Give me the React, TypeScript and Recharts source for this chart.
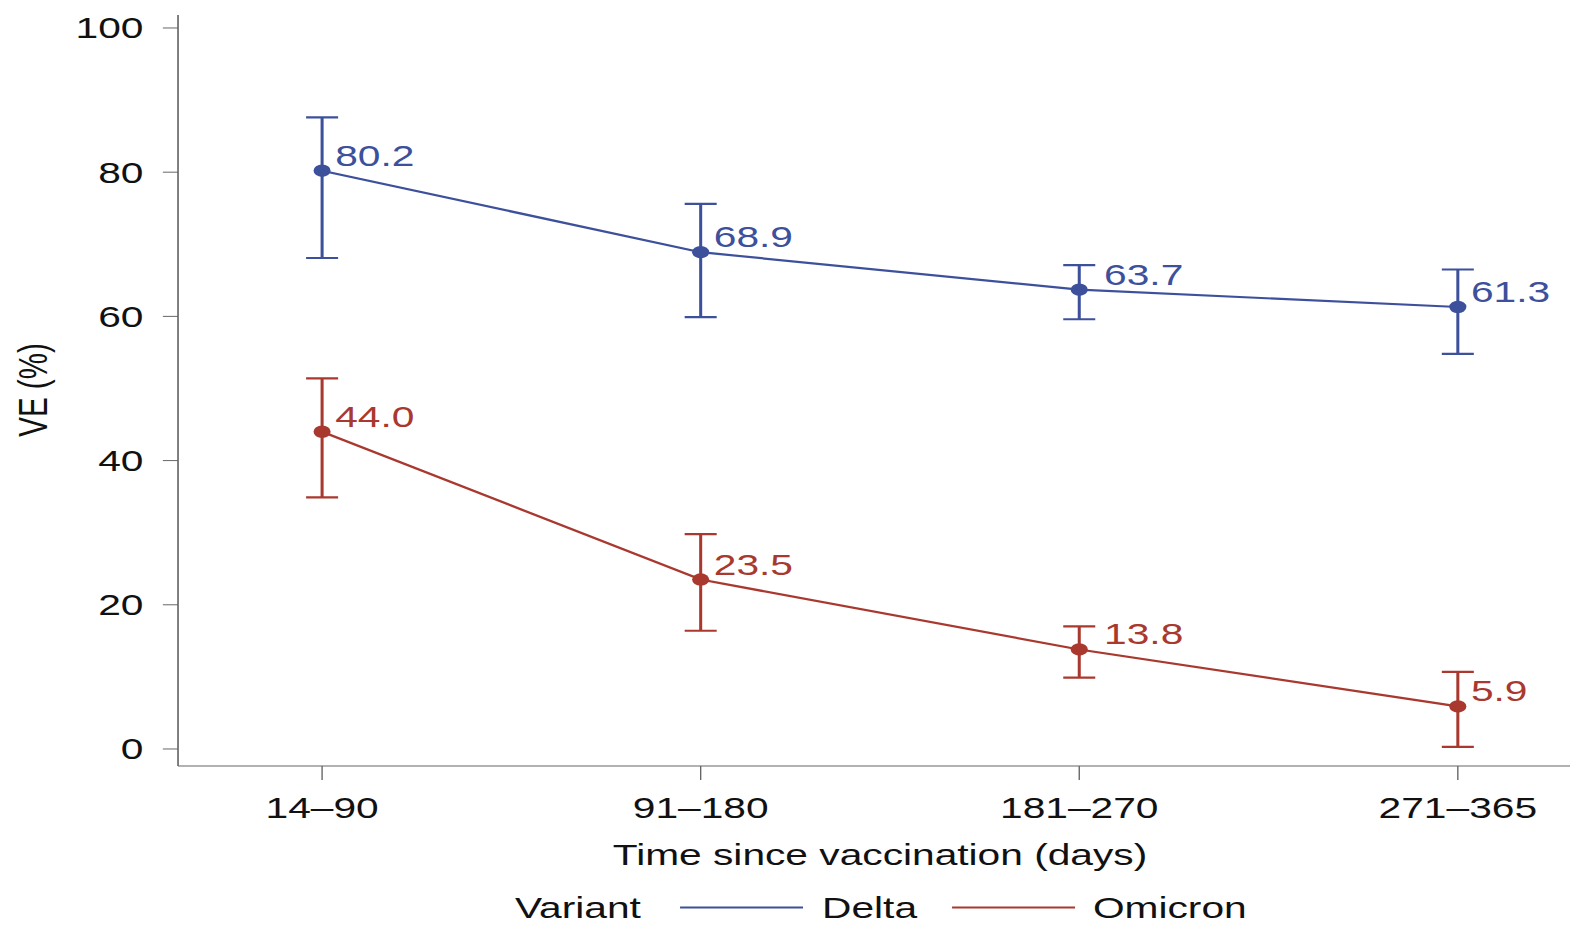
import React from 'react';
import { LineChart, Line, XAxis, YAxis, ErrorBar, LabelList, Customized } from 'recharts';

const categories = ['14–90', '91–180', '181–270', '271–365'];
const deltaVE = [80.2, 68.9, 63.7, 61.3];
const deltaLower = [68.1, 59.9, 59.6, 54.8];
const deltaUpper = [87.6, 75.6, 67.1, 66.5];
const omicronVE = [44.0, 23.5, 13.8, 5.9];
const omicronLower = [34.9, 16.4, 9.9, 0.3];
const omicronUpper = [51.4, 29.8, 17.0, 10.7];
const yTicks = [0, 20, 40, 60, 80, 100];

const data = categories.map((cat, i) => ({
  cat,
  delta: deltaVE[i],
  deltaErr: [deltaVE[i] - deltaLower[i], deltaUpper[i] - deltaVE[i]],
  omicron: omicronVE[i],
  omicronErr: [omicronVE[i] - omicronLower[i], omicronUpper[i] - omicronVE[i]],
}));

const BLUE = '#3d509c';
const RED = '#a9392e';
const AXIS = '#666666';
const FONT = '"Liberation Sans", Arial, Helvetica, sans-serif';
const FS = 29.5;
const SX = 1.38;

// labels sit beside the point; when the upper cap is close above the point, move the label past the cap
const makeLabel = (color: string, values: number[], uppers: number[]) => (props: any) => {
  const { x, y, value, index } = props;
  const gap = uppers[index] - values[index];
  const dx = gap < 4 ? 18 : 9.5;
  return (
    <text x={x + dx} y={y - 5} fill={color} fontSize={FS} fontFamily={FONT}>
      {Number(value).toFixed(1)}
    </text>
  );
};

const Titles = () => (
  <g fontFamily={FONT} fontSize={FS} fill="#111">
    <text x={637.7} y={865} textAnchor="middle">Time since vaccination (days)</text>
    <text x={34} y={390} textAnchor="middle" transform="rotate(-90, 34, 390)">VE (%)</text>
    <text x={373.2} y={918}>Variant</text>
    <line x1={492.8} x2={581.9} y1={907.5} y2={907.5} stroke={BLUE} strokeWidth={2.2} />
    <text x={595.7} y={918}>Delta</text>
    <line x1={689.9} x2={779} y1={907.5} y2={907.5} stroke={RED} strokeWidth={2.2} />
    <text x={792} y={918}>Omicron</text>
  </g>
);

export default function App() {
  return (
    <div style={{ position: 'absolute', left: 0, top: 0, width: 1570, height: 925, overflow: 'hidden', background: '#fff' }}>
      <div style={{ transform: `scaleX(${SX})`, transformOrigin: '0 0', width: 1170, height: 925 }}>
        <LineChart width={1170} height={925} data={data} margin={{ top: 15, right: 11, bottom: 99, left: 0 }}>
          <XAxis
            dataKey="cat"
            padding={{ left: 104.4, right: 102.6 }}
            height={60}
            tickSize={14}
            tickMargin={17}
            axisLine={{ stroke: AXIS, strokeWidth: 1.2 }}
            tickLine={{ stroke: AXIS, strokeWidth: 1 }}
            tick={{ fill: '#111', fontSize: FS, fontFamily: FONT }}
            interval={0}
          />
          <XAxis
            xAxisId="top"
            dataKey="cat"
            orientation="top"
            height={0}
            tick={false}
            tickLine={false}
            axisLine={{ stroke: AXIS, strokeWidth: 1.2 }}
          />
          <YAxis
            width={129}
            domain={[-2.36, 101.8]}
            allowDataOverflow
            ticks={yTicks}
            tickSize={11}
            tickMargin={14}
            axisLine={{ stroke: AXIS, strokeWidth: 1.2 }}
            tickLine={{ stroke: AXIS, strokeWidth: 1 }}
            tick={{ fill: '#111', fontSize: FS, fontFamily: FONT }}
          />
          <Line
            dataKey="delta"
            stroke={BLUE}
            strokeWidth={2.2}
            dot={{ r: 6.2, fill: BLUE, stroke: BLUE, strokeWidth: 0 }}
            isAnimationActive={false}
          >
            <ErrorBar dataKey="deltaErr" width={11.6} stroke={BLUE} strokeWidth={2.2} direction="y" />
            <LabelList dataKey="delta" content={makeLabel(BLUE, deltaVE, deltaUpper)} />
          </Line>
          <Line
            dataKey="omicron"
            stroke={RED}
            strokeWidth={2.2}
            dot={{ r: 6.2, fill: RED, stroke: RED, strokeWidth: 0 }}
            isAnimationActive={false}
          >
            <ErrorBar dataKey="omicronErr" width={11.6} stroke={RED} strokeWidth={2.2} direction="y" />
            <LabelList dataKey="omicron" content={makeLabel(RED, omicronVE, omicronUpper)} />
          </Line>
          <Customized component={Titles} />
        </LineChart>
      </div>
    </div>
  );
}
